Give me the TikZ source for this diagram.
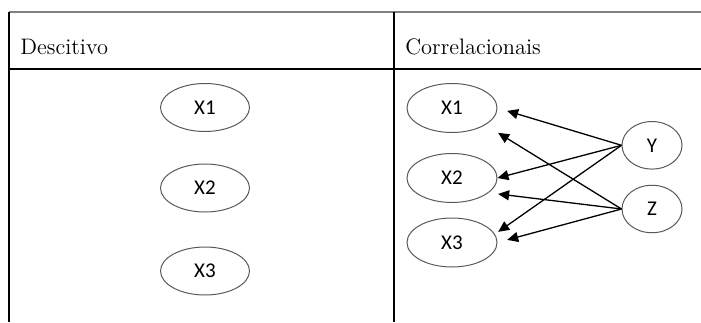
\documentclass[tikz,border=0pt]{standalone}
\usepackage{fontspec}
\usepackage{tikz}
\usetikzlibrary{arrows.meta,shapes.geometric}
\newfontfamily\varfont{Carlito}

\tikzset{
  var/.style={draw=black!65,line width=0.5pt,ellipse,inner sep=0pt,
    minimum width=45pt,minimum height=24.5pt,font=\varfont\fontsize{10.5}{12}\selectfont},
  cause/.style={var,minimum width=30pt,minimum height=23.75pt},
  link/.style={-{Triangle[length=5.5pt,width=5pt]},line width=0.65pt}
}

\begin{document}
\begin{tikzpicture}[x=0.5pt,y=-0.5pt]
  \useasboundingbox (0,0) rectangle (701,322);

  %table lines
  \draw[black!50,line width=0.8pt] (9,12) -- (701,12);
  \draw[-,line width=0.6pt] (9,69) -- (701,69);
  \draw[-,line width=0.6pt] (9,12) -- (9,322);
  \draw[-,line width=0.6pt] (394,12) -- (394,322);

  %column headers
  \node[anchor=base west,inner sep=0pt,font=\fontsize{11.2}{13}\selectfont] (hdesc) at (20,54) {Descitivo};
  \node[anchor=base west,inner sep=0pt,font=\fontsize{11.2}{13}\selectfont] (hcorr) at (405,54) {Correlacionais};

  %descriptive variables
  \node[var,minimum width=44.5pt,minimum height=24pt] (lx1) at (205,107.5) {X1};
  \node[var,minimum width=44.5pt,minimum height=24pt] (lx2) at (205,188) {X2};
  \node[var,minimum width=44.5pt,minimum height=24pt] (lx3) at (205,271) {X3};

  %correlational variables
  \node[var] (rx1) at (452,108) {X1};
  \node[var] (rx2) at (452,178) {X2};
  \node[var] (rx3) at (452,242.5) {X3};
  \node[cause] (y) at (652,145.3) {Y};
  \node[cause] (z) at (652,209) {Z};

  %arrows out of Y
  \draw[link,shorten >=5pt] (y.west) -- (rx1.east);
  \draw[link] (y.west) -- (rx2.east);
  \draw[link,shorten >=2pt] (y.west) -- (rx3.11);

  %arrows out of Z
  \draw[link,shorten >=7.5pt] (z.west) -- (rx1.-27);
  \draw[link,shorten >=4.75pt] (z.west) -- (rx2.-22);
  \draw[link,shorten >=5pt] (z.west) -- (rx3.east);
\end{tikzpicture}
\end{document}
